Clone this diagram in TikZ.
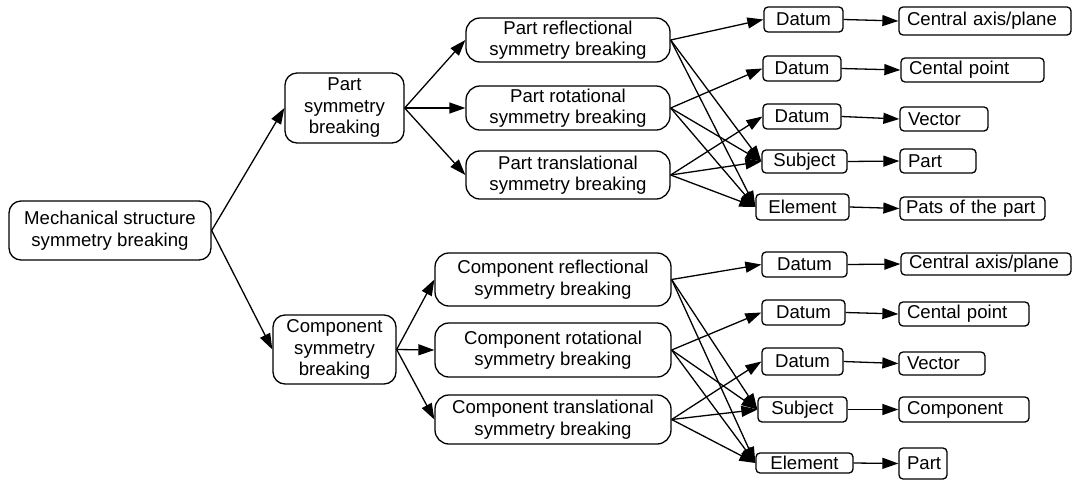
\documentclass[tikz,border=0pt]{standalone}
\usepackage{fontspec}
\setmainfont{Liberation Sans}
\usetikzlibrary{arrows.meta}
\begin{document}
\begin{tikzpicture}[x=1pt,y=-1pt,
  box/.style={draw,line width=1.3pt,align=center,inner sep=0pt,
    font=\fontsize{18.6}{21.5}\selectfont},
  bigbox/.style={box,rounded corners=12pt},
  midbox/.style={box,rounded corners=14pt},
  smallbox/.style={box,rounded corners=4pt},
  leafbox/.style={draw,line width=1.3pt,rounded corners=4pt,align=left,
    inner xsep=8pt,inner ysep=0pt,font=\fontsize{18.6}{21.5}\selectfont},
  arr/.style={line width=1.3pt,-{Triangle[length=16pt,width=11pt]}}]
\useasboundingbox (0,0) rectangle (1073,480);
% root
\node[bigbox,minimum width=202pt,minimum height=59pt] (root) at (110,230.5) {Mechanical structure\\symmetry breaking};
% part branch
\node[bigbox,minimum width=119pt,minimum height=70pt] (psym) at (344.5,108) {Part\\symmetry\\breaking};
\node[midbox,minimum width=204pt,minimum height=44pt] (prefl) at (568,40) {Part reflectional\\symmetry breaking};
\node[midbox,minimum width=204pt,minimum height=44pt] (prot) at (568,108) {Part rotational\\symmetry breaking};
\node[midbox,minimum width=204pt,minimum height=48pt] (ptrans) at (568,175) {Part translational\\symmetry breaking};
\node[smallbox,minimum width=79pt,minimum height=25pt] (d1) at (803.5,19.5) {Datum};
\node[smallbox,minimum width=78pt,minimum height=25pt] (d2) at (802,68.5) {Datum};
\node[smallbox,minimum width=78pt,minimum height=25pt] (d3) at (802,116.5) {Datum};
\node[smallbox,minimum width=85pt,minimum height=23pt] (s1) at (804.5,161.5) {Subject};
\node[smallbox,minimum width=93pt,minimum height=26pt] (e1) at (802.5,207) {Element};
\node[leafbox,text width=156pt,minimum height=28pt] (c1) at (985,21) {\mbox{Central axis/plane}};
\node[leafbox,text width=127pt,minimum height=24pt] (c2) at (972.5,70) {\mbox{Cental point}};
\node[leafbox,text width=72pt,minimum height=24pt] (c3) at (944,119) {\mbox{Vector}};
\node[leafbox,text width=60pt,minimum height=24pt] (p1) at (938,161) {\mbox{Part}};
\node[leafbox,inner xsep=6pt,text width=133pt,minimum height=23pt] (pp1) at (972.5,208.5) {\mbox{Pats of the part}};
% component branch
\node[bigbox,minimum width=123pt,minimum height=69pt] (csym) at (334.5,349.5) {Component\\symmetry\\breaking};
\node[midbox,minimum width=236pt,minimum height=53pt] (crefl) at (553,279.5) {Component reflectional\\symmetry breaking};
\node[midbox,minimum width=236pt,minimum height=54pt] (crot) at (553,350) {Component rotational\\symmetry breaking};
\node[midbox,minimum width=236pt,minimum height=49pt] (ctrans) at (553,419.5) {Component translational\\symmetry breaking};
\node[smallbox,minimum width=85pt,minimum height=25pt] (d4) at (804.5,264.5) {Datum};
\node[smallbox,minimum width=83pt,minimum height=25pt] (d5) at (803.5,312.5) {Datum};
\node[smallbox,minimum width=81pt,minimum height=27pt] (d6) at (802.5,361.5) {Datum};
\node[smallbox,minimum width=89pt,minimum height=25pt] (s2) at (802.5,409.5) {Subject};
\node[smallbox,minimum width=97pt,minimum height=20pt] (e2) at (804.5,463) {Element};
\node[leafbox,text width=154pt,minimum height=22pt] (c4) at (986,264) {\mbox{Central axis/plane}};
\node[leafbox,text width=114pt,minimum height=24pt] (c5) at (964,314) {\mbox{Cental point}};
\node[leafbox,text width=70pt,minimum height=23pt] (c6) at (942,363.5) {\mbox{Vector}};
\node[leafbox,text width=114pt,minimum height=25pt] (c7) at (964,409.5) {\mbox{Component}};
\node[leafbox,text width=32pt,minimum height=31pt] (p2) at (923,463.5) {\mbox{Part}};
% edges root
\draw[arr] (root.east) -- (psym.west);
\draw[arr] (root.east) -- (csym.west);
\foreach \t in {prefl,prot,ptrans} \draw[arr] (psym.east) -- (\t.west);
\foreach \t in {crefl,crot,ctrans} \draw[arr] (csym.east) -- (\t.west);
% part right edges
\draw[arr] (prefl.east) -- (d1.west);
\draw[arr] (prot.east) -- (d2.west);
\draw[arr] (ptrans.east) -- (d3.west);
\foreach \s in {prefl,prot,ptrans} {
  \draw[arr] (\s.east) -- (s1.west);
  \draw[arr] (\s.east) -- (e1.west);
}
\draw[arr] (d1.east) -- (c1.west);
\draw[arr] (d2.east) -- (c2.west);
\draw[arr] (d3.east) -- (c3.west);
\draw[arr] (s1.east) -- (p1.west);
\draw[arr] (e1.east) -- (pp1.west);
% component right edges
\draw[arr] (crefl.east) -- (d4.west);
\draw[arr] (crot.east) -- (d5.west);
\draw[arr] (ctrans.east) -- (d6.west);
\foreach \s in {crefl,crot,ctrans} {
  \draw[arr] (\s.east) -- (s2.west);
  \draw[arr] (\s.east) -- (e2.west);
}
\draw[arr] (d4.east) -- (c4.west);
\draw[arr] (d5.east) -- (c5.west);
\draw[arr] (d6.east) -- (c6.west);
\draw[arr] (s2.east) -- (c7.west);
\draw[arr] (e2.east) -- (p2.west);
\end{tikzpicture}
\end{document}
